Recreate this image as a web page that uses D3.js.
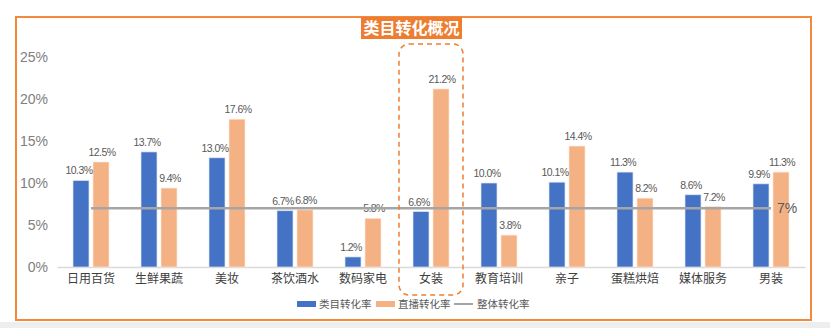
<!DOCTYPE html>
<html><head><meta charset="utf-8">
<script src="https://cdn.jsdelivr.net/npm/d3@7"></script>
<style>
html,body{margin:0;padding:0;background:#fff;}
svg{display:block;}
text{font-family:"Noto Sans CJK SC","Noto Sans",sans-serif;}
</style></head>
<body>
<svg id="c" width="830" height="328"></svg>
<script>
const categories = ["日用百货","生鲜果蔬","美妆","茶饮酒水","数码家电","女装","教育培训","亲子","蛋糕烘焙","媒体服务","男装"];
const categoryRate = [10.3,13.7,13.0,6.7,1.2,6.6,10.0,10.1,11.3,8.6,9.9];
const liveRate = [12.5,9.4,17.6,6.8,5.8,21.2,3.8,14.4,8.2,7.2,11.3];
const overallRate = 7;
const yTicks = [0,5,10,15,20,25];
const seriesNames = ["类目转化率","直播转化率","整体转化率"];
const title = "类目转化概况";
const highlight = "女装";

const svg = d3.select("#c");
const W = 830, H = 328;
const blue = "#4472c4", orange = "#f4b183", gray = "#a5a5a5", accent = "#ed7d31";

// bottom gray strip
svg.append("rect").attr("x",0).attr("y",322).attr("width",W).attr("height",6).attr("fill","#eeeeee");
// border
svg.append("rect").attr("x",16).attr("y",17).attr("width",795).attr("height",303)
  .attr("fill","none").attr("stroke","#f4893e").attr("stroke-width",2);

const x0 = d3.scaleBand().domain(categories).range([57,805]).paddingInner(0).paddingOuter(0);
const y = d3.scaleLinear().domain([0,25]).range([267,57]);
const bw = 16, gap = 4;

// y axis labels
const yAxis = d3.axisLeft(y).tickValues(yTicks).tickFormat(d=>d+"%").tickSize(0).tickPadding(0);
const gy = svg.append("g").attr("transform","translate(48,0)").call(yAxis);
gy.select(".domain").remove();
gy.selectAll("text").attr("font-size",14).attr("fill","#808080")
  .style("font-family","'Liberation Sans',Arial,sans-serif");

// x axis
const xAxis = d3.axisBottom(x0).tickSize(0).tickPadding(7);
const gx = svg.append("g").attr("transform","translate(0,267)").call(xAxis);
gx.select(".domain").attr("stroke","#d9d9d9").attr("stroke-width",1.5);
gx.selectAll("text").attr("font-size",12).attr("fill","#404040");

// bars
const g = svg.append("g");
categories.forEach((c,i)=>{
  const cx = x0(c) + x0.bandwidth()/2;
  const bx = cx - gap/2 - bw, ox = cx + gap/2;
  g.append("rect").attr("x",bx).attr("y",y(categoryRate[i])).attr("width",bw)
    .attr("height",y(0)-y(categoryRate[i])).attr("fill",blue).attr("stroke","#dfe6f5").attr("stroke-width",0.7);
  g.append("rect").attr("x",ox).attr("y",y(liveRate[i])).attr("width",bw)
    .attr("height",y(0)-y(liveRate[i])).attr("fill",orange).attr("stroke","#fde9dc").attr("stroke-width",0.7);
  g.append("text").attr("x",bx+bw/2-2).attr("y",y(categoryRate[i])-6).attr("text-anchor","middle")
    .attr("font-size",10.5).attr("fill","#595959").attr("letter-spacing","-0.6")
    .style("font-family","'Liberation Sans',Arial,sans-serif")
    .text(categoryRate[i].toFixed(1)+"%");
  g.append("text").attr("x",ox+bw/2+1).attr("y",y(liveRate[i])-6).attr("text-anchor","middle")
    .attr("font-size",10.5).attr("fill","#595959").attr("letter-spacing","-0.6")
    .style("font-family","'Liberation Sans',Arial,sans-serif")
    .text(liveRate[i].toFixed(1)+"%");
});

// overall line
const first = x0(categories[0]) + x0.bandwidth()/2;
const last = x0(categories[categories.length-1]) + x0.bandwidth()/2;
svg.append("line").attr("x1",first).attr("x2",last).attr("y1",y(overallRate)).attr("y2",y(overallRate))
  .attr("stroke",gray).attr("stroke-width",2.5);
svg.append("text").attr("x",last+6).attr("y",y(overallRate)+5).attr("font-size",14).attr("fill","#595959")
  .style("font-family","'Liberation Sans',Arial,sans-serif").text(overallRate+"%");

// highlight dashed rect
const hx = x0(highlight);
svg.append("rect").attr("x",hx+x0.bandwidth()/2-32).attr("y",44).attr("width",64).attr("height",251)
  .attr("rx",10).attr("fill","none").attr("stroke",accent).attr("stroke-width",1.5).attr("stroke-dasharray","5,4");

// title
svg.append("rect").attr("x",361).attr("y",17).attr("width",101).attr("height",22).attr("fill",accent);
svg.append("text").attr("x",411.5).attr("y",34).attr("text-anchor","middle").attr("font-size",16)
  .attr("font-weight","bold").attr("fill","#fff").text(title);

// legend
const lg = svg.append("g").attr("font-size",10.5).attr("fill","#595959");
lg.append("rect").attr("x",297).attr("y",301).attr("width",19).attr("height",6).attr("fill",blue);
lg.append("text").attr("x",319).attr("y",308).text(seriesNames[0]);
lg.append("rect").attr("x",376).attr("y",301).attr("width",19).attr("height",6).attr("fill",orange);
lg.append("text").attr("x",398).attr("y",308).text(seriesNames[1]);
lg.append("line").attr("x1",454).attr("x2",473).attr("y1",304).attr("y2",304).attr("stroke",gray).attr("stroke-width",2);
lg.append("text").attr("x",477).attr("y",308).text(seriesNames[2]);
</script>
</body></html>
